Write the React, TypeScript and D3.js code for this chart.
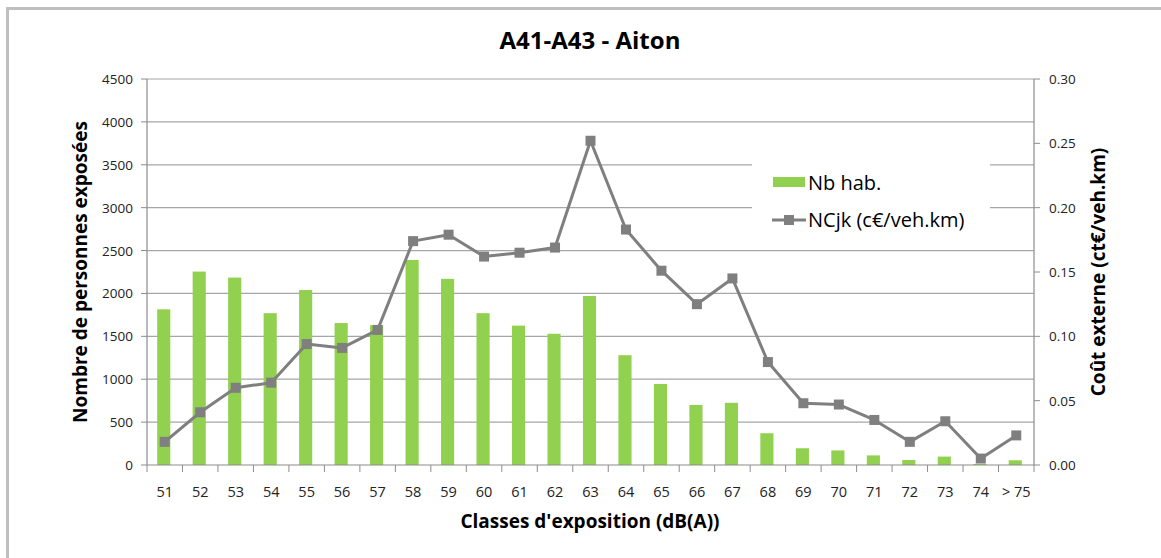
import React from "react";
import * as d3 from "d3";

const categories = ["51","52","53","54","55","56","57","58","59","60","61","62","63","64","65","66","67","68","69","70","71","72","73","74","> 75"];
const nbHab = [1815,2255,2185,1770,2040,1655,1630,2390,2170,1770,1625,1530,1970,1280,945,700,725,370,195,170,112,58,98,12,55];
const ncjk = [0.018,0.041,0.060,0.064,0.094,0.091,0.105,0.174,0.179,0.162,0.165,0.169,0.252,0.183,0.151,0.125,0.145,0.080,0.048,0.047,0.035,0.018,0.034,0.005,0.023];
const leftTicks = [0,500,1000,1500,2000,2500,3000,3500,4000,4500];
const rightTicks = [0,0.05,0.10,0.15,0.20,0.25,0.30];

const W = 1161, H = 558;
const L = 147, R = 1034, T = 79, B = 465;
const FONT = "'Open Sans', 'Noto Sans', sans-serif";

export default function App() {
  const x = d3.scaleBand<string>().domain(categories).range([L, R]).paddingInner(0).paddingOuter(0);
  const yL = d3.scaleLinear().domain([0, 4500]).range([B, T]);
  const yR = d3.scaleLinear().domain([0, 0.3]).range([B, T]);
  const bw = x.bandwidth();
  const barW = bw * 0.37;
  const line = d3.line<number>().x((_, i) => (x(categories[i]) as number) + bw / 2).y((d) => yR(d));
  const gridColor = "#a6a6a6";
  const axisColor = "#8c8c8c";
  const legendBox = { x: 752, y: 156, w: 238, h: 86 };
  return (
    <svg width={W} height={H} style={{ position: "absolute", left: 0, top: 0 }} fontFamily={FONT}>
      <rect x={0} y={0} width={W} height={H} fill="#fff" />
      <rect x={7.5} y={8.5} width={1200} height={600} fill="#fff" stroke="#bfbfbf" strokeWidth={3} />
      <text x={590} y={49} textAnchor="middle" fontSize={24} fontWeight="bold" fill="#000">A41-A43 - Aiton</text>
      {leftTicks.slice(1).map((t) => (
        <line key={t} x1={L} x2={R} y1={yL(t)} y2={yL(t)} stroke={gridColor} strokeWidth={1.2} />
      ))}
      <rect x={legendBox.x} y={legendBox.y} width={legendBox.w} height={legendBox.h} fill="#fff" />
      {categories.map((c, i) => (
        <rect key={c} x={(x(c) as number) + bw / 2 - barW / 2 - 1} y={yL(nbHab[i])} width={barW} height={B - yL(nbHab[i])} fill="#92d050" />
      ))}
      <line x1={L} x2={L} y1={T} y2={B} stroke={axisColor} strokeWidth={1.2} />
      <line x1={R} x2={R} y1={T} y2={B} stroke={axisColor} strokeWidth={1.2} />
      <line x1={L} x2={R} y1={B} y2={B} stroke={axisColor} strokeWidth={1.2} />
      {leftTicks.map((t) => (
        <g key={t}>
          <line x1={L - 6} x2={L} y1={yL(t)} y2={yL(t)} stroke={axisColor} />
          <text x={133} y={yL(t) + 5} textAnchor="end" fontSize={13.5} fill="#222">{t}</text>
        </g>
      ))}
      {rightTicks.map((t) => (
        <g key={t}>
          <line x1={R} x2={R + 6} y1={yR(t)} y2={yR(t)} stroke={axisColor} />
          <text x={1049} y={yR(t) + 5} textAnchor="start" fontSize={13.5} fill="#222">{t.toFixed(2)}</text>
        </g>
      ))}
      {d3.range(categories.length + 1).map((i) => (
        <line key={i} x1={L + i * bw} x2={L + i * bw} y1={B} y2={B + 7} stroke={axisColor} />
      ))}
      {categories.map((c) => (
        <text key={c} x={(x(c) as number) + bw / 2} y={497} textAnchor="middle" fontSize={14.5} fill="#222">{c}</text>
      ))}
      <path d={line(ncjk) || ""} fill="none" stroke="#7f7f7f" strokeWidth={3} strokeLinejoin="round" />
      {ncjk.map((v, i) => (
        <rect key={i} x={(x(categories[i]) as number) + bw / 2 - 5} y={yR(v) - 5} width={10} height={10} fill="#7f7f7f" />
      ))}
      <text x={590} y={528} textAnchor="middle" fontSize={19} fontWeight="bold" fill="#000">Classes d'exposition (dB(A))</text>
      <text transform={`translate(87,272) rotate(-90)`} textAnchor="middle" fontSize={19} fontWeight="bold" fill="#000">Nombre de personnes exposées</text>
      <text transform={`translate(1105,272) rotate(-90)`} textAnchor="middle" fontSize={19} fontWeight="bold" fill="#000">Coût externe (ct€/veh.km)</text>
      <rect x={773} y={177} width={32} height={10} fill="#92d050" />
      <text x={808} y={190} fontSize={20} fill="#000">Nb hab.</text>
      <line x1={772} x2={806} y1={220} y2={220} stroke="#7f7f7f" strokeWidth={3} />
      <rect x={784} y={215} width={10} height={10} fill="#7f7f7f" />
      <text x={808} y={227} fontSize={20} fill="#000">NCjk (c€/veh.km)</text>
    </svg>
  );
}
